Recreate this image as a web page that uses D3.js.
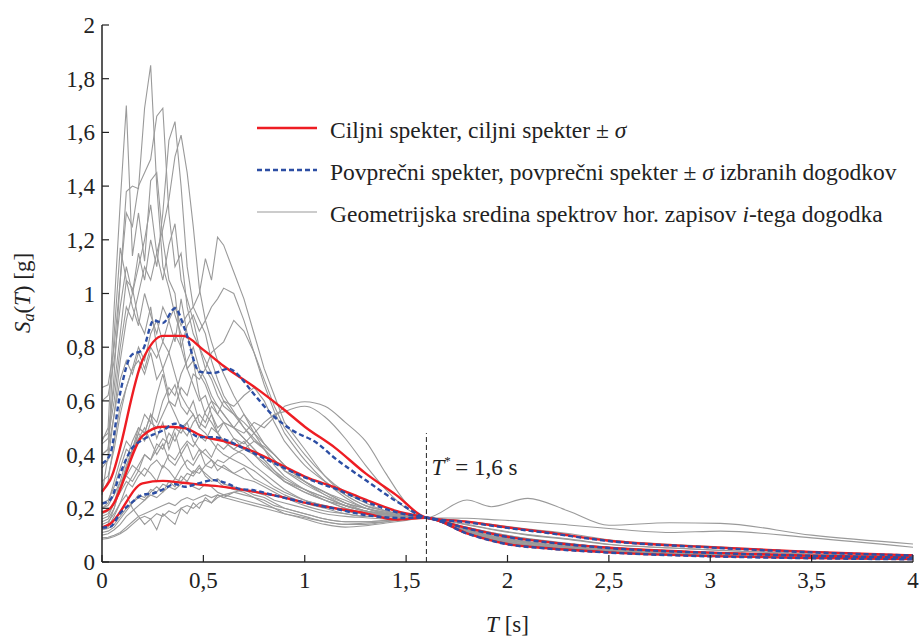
<!DOCTYPE html>
<html><head><meta charset="utf-8">
<script src="https://cdn.jsdelivr.net/npm/d3@7/dist/d3.min.js"></script>
</head>
<body style="margin:0;background:#fff">
<svg id="c" width="919" height="637"></svg>
<script>
// ---- data ----
const periods = [0,0.03,0.06,0.09,0.12,0.15,0.18,0.21,0.24,0.27,0.3,0.33,0.36,0.39,0.42,0.45,0.48,0.51,0.54,0.57,0.6,
  0.65,0.7,0.75,0.8,0.85,0.9, 1.0,1.1,1.2,1.3,1.4,1.5,1.6, 1.8,1.92,2.1,2.3,2.5,2.8,3.05,3.5,4.0];

const gm01 = [0.40,0.42,0.70,1.05,1.38,1.40,1.39,1.69,1.85,1.40,1.10,1.02,0.92,0.85,0.72,0.66,0.60,0.62,0.55,0.50,0.52, 0.46,0.42,0.40,0.37,0.33,0.30, 0.27,0.24,0.21,0.19,0.18,0.17,0.165, 0.138,0.121,0.100,0.084,0.065,0.052,0.043,0.029,0.020];
const gm02 = [0.45,0.50,0.95,1.34,1.70,1.14,1.30,1.12,1.42,1.45,1.20,1.05,1.00,0.80,0.72,0.75,0.62,0.55,0.52,0.48,0.45, 0.42,0.40,0.36,0.33,0.30,0.27, 0.23,0.21,0.19,0.18,0.17,0.168,0.165, 0.127,0.108,0.085,0.068,0.054,0.041,0.034,0.023,0.017];
const gm03 = [0.65,0.66,0.80,1.05,1.30,1.25,1.40,1.45,1.50,1.66,1.69,1.30,1.10,1.15,0.95,0.85,0.80,0.72,0.68,0.62,0.58, 0.55,0.50,0.45,0.42,0.38,0.34, 0.29,0.25,0.22,0.20,0.18,0.17,0.165, 0.108,0.084,0.061,0.047,0.037,0.028,0.022,0.015,0.011];
const gm04 = [0.60,0.62,0.75,0.95,1.10,1.00,1.15,1.05,1.20,1.10,1.30,1.57,1.64,1.40,1.10,0.95,0.90,0.85,0.75,0.68,0.62, 0.56,0.50,0.46,0.42,0.38,0.34, 0.30,0.26,0.22,0.20,0.185,0.172,0.165, 0.118,0.096,0.073,0.057,0.045,0.034,0.027,0.019,0.014];
const gm05 = [0.44,0.46,0.60,0.80,0.95,0.90,1.00,1.10,1.05,1.15,1.24,1.35,1.51,1.59,1.45,1.25,1.02,0.90,0.82,0.75,0.70, 0.62,0.55,0.50,0.44,0.40,0.36, 0.30,0.26,0.22,0.19,0.18,0.17,0.165, 0.152,0.140,0.123,0.106,0.083,0.066,0.056,0.038,0.026];
const gm06 = [0.35,0.38,0.55,0.75,0.90,1.00,1.10,1.20,1.33,1.15,1.05,1.18,1.26,1.05,0.98,0.90,0.80,0.75,0.70,0.65,0.60, 0.55,0.52,0.48,0.44,0.40,0.36, 0.30,0.26,0.23,0.20,0.185,0.17,0.165, 0.116,0.094,0.071,0.055,0.043,0.033,0.026,0.018,0.013];
const gm07 = [0.30,0.32,0.42,0.55,0.65,0.72,0.80,0.75,0.85,0.90,0.82,0.90,0.95,0.88,0.92,0.95,1.00,1.13,1.05,1.21,1.18, 1.08,0.98,0.85,0.72,0.62,0.52, 0.42,0.32,0.25,0.21,0.19,0.175,0.165, 0.128,0.110,0.087,0.070,0.055,0.042,0.035,0.024,0.017];
const gm08 = [0.25,0.40,0.85,1.17,1.05,1.02,0.90,0.85,0.95,0.80,0.72,0.78,0.70,0.62,0.58,0.55,0.50,0.48,0.45,0.42,0.40, 0.38,0.36,0.34,0.31,0.28,0.26, 0.23,0.21,0.19,0.18,0.175,0.17,0.165, 0.107,0.083,0.060,0.046,0.036,0.027,0.022,0.015,0.011];
const gm09 = [0.22,0.23,0.28,0.35,0.42,0.40,0.48,0.45,0.52,0.50,0.55,0.60,0.58,0.65,0.62,0.70,0.68,0.72,0.78,0.80,0.82, 0.90,0.86,0.78,0.68,0.58,0.50, 0.40,0.32,0.26,0.22,0.19,0.175,0.165, 0.140,0.123,0.102,0.086,0.066,0.053,0.044,0.030,0.021];
const gm10 = [0.20,0.21,0.25,0.30,0.32,0.30,0.34,0.32,0.36,0.38,0.35,0.40,0.38,0.42,0.45,0.43,0.47,0.45,0.50,0.48,0.52, 0.50,0.48,0.52,0.50,0.54,0.58, 0.597,0.58,0.52,0.45,0.33,0.22,0.165, 0.231,0.206,0.237,0.190,0.137,0.146,0.144,0.100,0.067];
const gm11 = [0.18,0.19,0.22,0.26,0.30,0.28,0.32,0.35,0.33,0.30,0.36,0.34,0.31,0.35,0.38,0.36,0.40,0.42,0.39,0.44,0.42, 0.46,0.44,0.48,0.52,0.55,0.56, 0.58,0.54,0.46,0.36,0.27,0.20,0.165, 0.163,0.158,0.150,0.138,0.125,0.110,0.115,0.090,0.055];
const gm12 = [0.16,0.17,0.22,0.30,0.38,0.45,0.50,0.48,0.55,0.52,0.60,0.65,0.62,0.70,0.75,0.80,0.72,0.68,0.62,0.58,0.55, 0.50,0.46,0.42,0.38,0.34,0.30, 0.26,0.23,0.21,0.19,0.18,0.17,0.165, 0.120,0.098,0.074,0.058,0.046,0.035,0.028,0.020,0.014];
const gm13 = [0.15,0.16,0.20,0.28,0.35,0.42,0.48,0.55,0.52,0.62,0.70,0.60,0.55,0.50,0.52,0.45,0.42,0.40,0.38,0.36,0.35, 0.33,0.31,0.30,0.28,0.26,0.24, 0.21,0.19,0.18,0.17,0.17,0.168,0.165, 0.114,0.092,0.070,0.054,0.042,0.032,0.026,0.018,0.013];
const gm14 = [0.14,0.15,0.18,0.22,0.28,0.32,0.36,0.40,0.38,0.42,0.46,0.44,0.50,0.48,0.52,0.55,0.50,0.56,0.60,0.55,0.52, 0.50,0.55,0.48,0.42,0.36,0.32, 0.27,0.23,0.20,0.18,0.17,0.165,0.165, 0.126,0.106,0.083,0.066,0.052,0.040,0.033,0.023,0.016];
const gm15 = [0.13,0.14,0.20,0.28,0.36,0.42,0.46,0.50,0.45,0.40,0.44,0.38,0.36,0.40,0.35,0.33,0.36,0.32,0.30,0.31,0.29, 0.28,0.27,0.26,0.25,0.23,0.22, 0.20,0.18,0.17,0.165,0.16,0.162,0.165, 0.105,0.081,0.059,0.045,0.035,0.026,0.021,0.014,0.010];
const gm16 = [0.12,0.125,0.14,0.17,0.20,0.22,0.24,0.23,0.26,0.28,0.26,0.30,0.28,0.32,0.30,0.34,0.33,0.36,0.35,0.38,0.37, 0.40,0.42,0.45,0.43,0.40,0.36, 0.30,0.25,0.21,0.19,0.175,0.168,0.165, 0.119,0.097,0.073,0.057,0.045,0.034,0.028,0.019,0.014];
const gm17 = [0.12,0.13,0.17,0.22,0.25,0.20,0.17,0.14,0.16,0.12,0.18,0.16,0.14,0.20,0.18,0.22,0.20,0.24,0.22,0.25,0.24, 0.26,0.27,0.25,0.24,0.22,0.20, 0.18,0.16,0.15,0.15,0.155,0.16,0.165, 0.109,0.086,0.063,0.048,0.038,0.029,0.023,0.016,0.012];
const gm18 = [0.11,0.115,0.13,0.16,0.19,0.22,0.25,0.24,0.27,0.26,0.29,0.28,0.31,0.30,0.33,0.32,0.35,0.33,0.31,0.30,0.28, 0.27,0.26,0.24,0.23,0.21,0.20, 0.18,0.16,0.15,0.15,0.155,0.16,0.165, 0.110,0.087,0.064,0.049,0.039,0.029,0.023,0.016,0.012];
const gm19 = [0.10,0.105,0.12,0.14,0.17,0.19,0.21,0.23,0.25,0.24,0.26,0.28,0.27,0.29,0.30,0.28,0.27,0.29,0.28,0.26,0.25, 0.24,0.23,0.22,0.21,0.20,0.19, 0.17,0.15,0.14,0.145,0.15,0.16,0.165, 0.106,0.082,0.060,0.046,0.036,0.027,0.022,0.015,0.011];
const gm20 = [0.09,0.092,0.10,0.11,0.13,0.15,0.17,0.18,0.19,0.20,0.21,0.22,0.21,0.23,0.24,0.23,0.24,0.25,0.24,0.25,0.24, 0.23,0.22,0.21,0.20,0.19,0.18, 0.165,0.15,0.14,0.14,0.15,0.16,0.165, 0.112,0.090,0.066,0.051,0.040,0.030,0.024,0.017,0.012];
const gm21 = [0.085,0.088,0.095,0.105,0.12,0.14,0.16,0.17,0.16,0.18,0.17,0.19,0.18,0.20,0.21,0.20,0.22,0.23,0.22,0.24,0.25, 0.26,0.25,0.24,0.22,0.20,0.18, 0.16,0.14,0.13,0.135,0.145,0.155,0.165, 0.116,0.095,0.072,0.056,0.044,0.033,0.027,0.019,0.013];
const gm22 = [0.20,0.22,0.30,0.38,0.45,0.42,0.50,0.48,0.55,0.46,0.52,0.42,0.48,0.40,0.44,0.38,0.42,0.36,0.38,0.34,0.36, 0.33,0.35,0.31,0.29,0.27,0.25, 0.22,0.20,0.18,0.17,0.17,0.168,0.165, 0.111,0.088,0.065,0.050,0.039,0.030,0.024,0.016,0.012];
const gm23 = [0.17,0.18,0.22,0.28,0.32,0.36,0.34,0.40,0.38,0.44,0.42,0.48,0.45,0.50,0.47,0.52,0.55,0.52,0.58,0.55,0.60, 0.58,0.62,0.65,0.60,0.52,0.45, 0.36,0.30,0.25,0.21,0.19,0.175,0.165, 0.125,0.105,0.082,0.065,0.051,0.039,0.032,0.022,0.016];
const gm24 = [0.26,0.30,0.45,0.58,0.65,0.72,0.75,0.70,0.78,0.68,0.72,0.62,0.66,0.58,0.55,0.60,0.52,0.50,0.55,0.48,0.45, 0.42,0.45,0.40,0.36,0.33,0.30, 0.26,0.23,0.20,0.185,0.175,0.17,0.165, 0.115,0.093,0.070,0.054,0.043,0.033,0.026,0.018,0.013];
const gm25 = [0.46,0.48,0.65,0.85,1.05,0.95,0.88,1.00,0.92,0.85,0.95,0.90,0.82,0.98,0.85,0.75,0.70,0.66,0.60,0.58,0.55, 0.50,0.46,0.42,0.38,0.34,0.31, 0.27,0.24,0.21,0.19,0.18,0.17,0.165, 0.121,0.099,0.076,0.059,0.047,0.036,0.029,0.020,0.014];
const gm26 = [0.40,0.42,0.55,0.68,0.75,0.70,0.78,0.72,0.80,0.76,0.82,0.78,0.85,0.80,0.88,0.92,0.86,0.90,0.95,0.98,1.02, 1.00,0.90,0.78,0.66,0.56,0.48, 0.38,0.30,0.24,0.20,0.18,0.17,0.165, 0.129,0.110,0.086,0.069,0.055,0.042,0.034,0.024,0.017];
const records = [gm01,gm02,gm03,gm04,gm05,gm06,gm07,gm08,gm09,gm10,gm11,gm12,gm13,gm14,gm15,gm16,gm17,gm18,gm19,gm20,gm21,gm22,gm23,gm24,gm25,gm26];

// target spectrum (median, +sigma, -sigma)
const targetT     = [0,0.04,0.2,0.3,0.4,0.5,0.6,0.75,0.9,1.0,1.15,1.3,1.45,1.6,1.8,2.0,2.2,2.5,3.0,3.5,4.0];
const targetMed   = [0.185,0.20,0.47,0.504,0.50,0.467,0.45,0.41,0.355,0.318,0.278,0.232,0.19,0.165,0.127,0.094,0.074,0.053,0.035,0.0235,0.0166];
const targetUpper = [0.262,0.305,0.752,0.842,0.842,0.79,0.73,0.653,0.566,0.504,0.425,0.33,0.25,0.165,0.150,0.129,0.110,0.079,0.055,0.037,0.025];
const targetLower = [0.128,0.142,0.293,0.302,0.295,0.287,0.28,0.262,0.24,0.221,0.20,0.181,0.158,0.165,0.107,0.067,0.051,0.036,0.022,0.015,0.011];

// mean of selected records (mean, +sigma, -sigma)
const meanT     = [0,0.04,0.09,0.145,0.2,0.255,0.3,0.36,0.41,0.48,0.55,0.625,0.68,0.74,0.85,0.94,1.06,1.14,1.3,1.47,1.6,1.8,2.0,2.2,2.5,3.0,3.5,4.0];
const meanMid   = [0.218,0.231,0.33,0.42,0.455,0.475,0.49,0.515,0.50,0.465,0.465,0.45,0.43,0.408,0.368,0.335,0.297,0.276,0.225,0.182,0.165,0.125,0.093,0.073,0.052,0.034,0.023,0.016];
const meanUpper = [0.367,0.40,0.63,0.77,0.79,0.90,0.89,0.945,0.864,0.709,0.704,0.72,0.69,0.634,0.541,0.49,0.443,0.392,0.305,0.218,0.165,0.148,0.127,0.108,0.078,0.054,0.036,0.024];
const meanLower = [0.128,0.131,0.182,0.22,0.25,0.256,0.27,0.29,0.28,0.294,0.305,0.29,0.272,0.268,0.248,0.232,0.212,0.20,0.175,0.164,0.165,0.106,0.066,0.050,0.035,0.021,0.014,0.010];

const xTicks = [0,0.5,1,1.5,2,2.5,3,3.5,4];
const yTicks = [0,0.2,0.4,0.6,0.8,1,1.2,1.4,1.6,1.8,2];
const Tstar = 1.6;

// ---- drawing ----
const svg = d3.select("#c");
const x = d3.scaleLinear().domain([0,4]).range([102,913]);
const y = d3.scaleLinear().domain([0,2]).range([562,25]);
const fmt = v => String(v).replace(".", ",");
const FS = 23, FSL = 23.5;
const TXT = "#222";
function addText(parent, px, py, anchor, size) {
  const t = parent.append("text").attr("x", px).attr("y", py)
    .attr("font-size", size || FS).attr("fill", TXT)
    .attr("style", "font-family:'Liberation Serif',serif");
  if (anchor) t.attr("text-anchor", anchor);
  return t;
}

const plot = svg.append("g");
const lineXY = (ts, curve) => d3.line().x((d,i)=>x(ts[i])).y(d=>y(d)).curve(curve);

// short-period part of each record drawn as a polyline, long-period part smooth
const gline = lineXY(periods, d3.curveMonotoneX);
const glineLin = lineXY(periods, d3.curveLinear).defined((d,i)=>periods[i] <= 0.9);
plot.selectAll("path.rec").data(records).join("path")
  .attr("class","rec")
  .attr("d", d => {
    const lin = glineLin(d);
    const k = periods.findIndex(p => p >= 0.9);
    const smooth = d3.line().x((v,i)=>x(periods[k+i])).y(v=>y(v)).curve(d3.curveMonotoneX)(d.slice(k));
    return lin + smooth;
  })
  .attr("fill","none").attr("stroke","#9a9a9a").attr("stroke-width",1.1);

const redCol = "#ee1d23", blueCol = "#2c4ea4";
const rline = lineXY(targetT, d3.curveMonotoneX);
plot.selectAll("path.tgt").data([targetUpper,targetMed,targetLower]).join("path")
  .attr("class","tgt").attr("d", rline)
  .attr("fill","none").attr("stroke",redCol).attr("stroke-width",2.4);

const bline = lineXY(meanT, d3.curveMonotoneX);
plot.selectAll("path.mean").data([meanUpper,meanMid,meanLower]).join("path")
  .attr("class","mean").attr("d", bline)
  .attr("fill","none").attr("stroke",blueCol).attr("stroke-width",2.4)
  .attr("stroke-dasharray","5,3");

// T* marker
svg.append("line").attr("x1",x(Tstar)).attr("x2",x(Tstar)).attr("y1",y(0)).attr("y2",y(0.48))
  .attr("stroke","#222").attr("stroke-width",1).attr("stroke-dasharray","5,3");
const ts = addText(svg, x(Tstar)+5, 475);
ts.append("tspan").attr("font-style","italic").text("T");
ts.append("tspan").attr("font-size",13).attr("dy",-10).text("*");
ts.append("tspan").attr("dy",10).text("\u2009= 1,6 s");

// axes
const ax = svg.append("g").attr("stroke","#222");
ax.append("line").attr("x1",x(0)).attr("x2",x(0)).attr("y1",y(0)).attr("y2",y(2)).attr("stroke-width",1.5);
ax.append("line").attr("x1",x(0)).attr("x2",x(4)).attr("y1",y(0)).attr("y2",y(0)).attr("stroke-width",1.5);
ax.selectAll("line.yt").data(yTicks).join("line").attr("class","yt")
  .attr("x1",x(0)).attr("x2",x(0)+7).attr("y1",d=>y(d)).attr("y2",d=>y(d)).attr("stroke-width",1.2);
ax.selectAll("line.xt").data(xTicks).join("line").attr("class","xt")
  .attr("x1",d=>x(d)).attr("x2",d=>x(d)).attr("y1",y(0)).attr("y2",y(0)-7).attr("stroke-width",1.2);

yTicks.forEach(v => addText(svg, x(0)-7, y(v)+8, "end").text(fmt(v)));
xTicks.forEach(v => addText(svg, x(v), 588, "middle").text(fmt(v)));

// axis titles
const xt = addText(svg, x(2), 632, "middle");
xt.append("tspan").attr("font-style","italic").text("T");
xt.append("tspan").text(" [s]");

const yt = addText(svg, 0, 0, "middle").attr("transform","translate(30,293) rotate(-90)");
yt.append("tspan").attr("font-style","italic").text("S");
yt.append("tspan").attr("font-style","italic").attr("font-size",16).attr("dy",4).text("a");
yt.append("tspan").attr("dy",-4).text("(");
yt.append("tspan").attr("font-style","italic").text("T");
yt.append("tspan").text(") [g]");

// legend
const lg = svg.append("g");
const items = [
  {y:128, stroke:redCol, w:2.4, dash:null},
  {y:170, stroke:blueCol, w:2.4, dash:"5,3"},
  {y:212, stroke:"#9a9a9a", w:1.1, dash:null}
];
items.forEach(it=>{
  lg.append("line").attr("x1",257).attr("x2",317).attr("y1",it.y).attr("y2",it.y)
    .attr("stroke",it.stroke).attr("stroke-width",it.w).attr("stroke-dasharray",it.dash);
});
const t1 = addText(lg, 330, 138, null, FSL);
t1.append("tspan").text("Ciljni spekter, ciljni spekter \u00b1 ");
t1.append("tspan").attr("font-style","italic").text("\u03c3");
const t2 = addText(lg, 330, 180, null, FSL);
t2.append("tspan").text("Povpre\u010dni spekter, povpre\u010dni spekter \u00b1 ");
t2.append("tspan").attr("font-style","italic").text("\u03c3");
t2.append("tspan").text(" izbranih dogodkov");
const t3 = addText(lg, 330, 222, null, FSL);
t3.append("tspan").text("Geometrijska sredina spektrov hor. zapisov ");
t3.append("tspan").attr("font-style","italic").text("i");
t3.append("tspan").text("-tega dogodka");
</script></body></html>
